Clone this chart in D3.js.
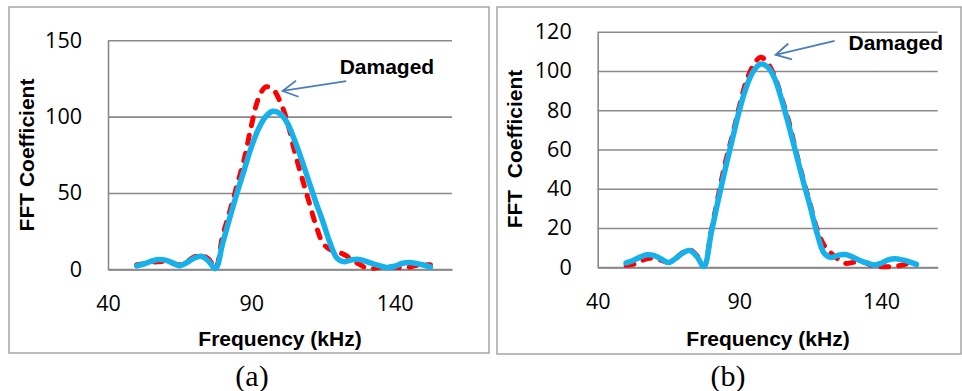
<!DOCTYPE html>
<html>
<head>
<meta charset="utf-8">
<script src="https://cdn.jsdelivr.net/npm/d3@7"></script>
<style>
  body { margin: 0; background: #fff; }
  svg { display: block; }
  .tick text { font-family: "Open Sans", "Liberation Sans", Arial, sans-serif; font-size: 21.5px; fill: #000; }
  .lbl { font-family: "Liberation Sans", Arial, sans-serif; font-weight: bold; font-size: 21px; fill: #000; white-space: pre; }
  .cap { font-family: "Liberation Serif", "Times New Roman", serif; font-size: 30px; fill: #000; }
</style>
</head>
<body>
<svg id="chart" width="962" height="391"></svg>
<script>
// frequency samples (kHz)
var freq = [50, 52.5, 55, 57.5, 60, 62.5, 65, 67.5, 70, 72.5, 75, 77.5, 80, 82.5, 85, 87.5,
            90, 92.5, 95, 97.5, 100, 102.5, 105, 107.5, 110, 112.5, 115, 117.5, 120, 122.5,
            125, 127.5, 130, 132.5, 135, 137.5, 140, 142.5, 145, 147.5, 150, 152.5];

// healthy signal (same in both panels)
var healthy = [2.2, 3.5, 5.2, 6.4, 6.0, 4.2, 2.4, 4.5, 7.2, 8.6, 5.5, 0.4, 17, 34, 50, 65,
               80, 92, 100, 103.5, 102, 96, 85, 72, 58, 44, 31, 17, 7, 5,
               6.2, 6.5, 5.2, 3.5, 2.2, 1.2, 2, 3.8, 4.4, 3.8, 2.8, 1.5];

// damaged signal, panel (a)
var damagedA = [3, 3.5, 4.5, 5, 5, 4, 3, 5, 8, 9, 7, 1, 22, 38, 55, 72,
                94, 112, 119.5, 118, 110, 97, 78, 61, 45, 29, 17, 13, 11.5, 9.5,
                6.5, 3.5, 1, 0.5, 1.5, 2, 1.5, 1, 1.5, 2.5, 3, 3];

// damaged signal, panel (b)
var damagedB = [1, 1.5, 3, 4.5, 4.5, 3.5, 2.5, 4.5, 7.5, 9, 6, 0.5, 18, 36, 53, 67,
                82, 95, 103, 107, 104, 97, 86, 74, 59, 45, 32, 19, 11, 7,
                4, 2, 2.5, 3, 2, 0.5, 0.3, 0.3, 0.5, 1.2, 2, 1.5];

var xTicks = [40, 90, 140];
var yTicksA = [0, 50, 100, 150];
var yTicksB = [0, 20, 40, 60, 80, 100, 120];

var svg = d3.select("#chart");

var panels = [
  { frame: [9, 7, 480, 346], left: 108, right: 452, top: 40.3, bottom: 269.3,
    yMax: 150, yTicks: yTicksA, damaged: damagedA, yTitle: "FFT Coefficient",
    yTitlePos: [26, 155], xTitlePos: [280, 338], cap: "(a)", capPos: [252, 375],
    arrowTail: [123.1, 123.3], arrowTip: [100.9, 116.8], note: [137.3, 133] },
  { frame: [497, 7, 464, 347], left: 597.7, right: 937.7, top: 31.7, bottom: 267.3,
    yMax: 120, yTicks: yTicksB, damaged: damagedB, yTitle: "FFT  Coefficient",
    yTitlePos: [514, 149], xTitlePos: [768, 338], cap: "(b)", capPos: [728, 375],
    arrowTail: [123.6, 115.3], arrowTip: [102.8, 108.2], note: [145.2, 114.3] }
];

panels.forEach(function (p) {
  svg.append("rect")
    .attr("x", p.frame[0]).attr("y", p.frame[1])
    .attr("width", p.frame[2]).attr("height", p.frame[3])
    .attr("fill", "none").attr("stroke", "#a6a6a6").attr("stroke-width", 1.5);

  var x = d3.scaleLinear().domain([40, 160]).range([p.left, p.right]);
  var y = d3.scaleLinear().domain([0, p.yMax]).range([p.bottom, p.top]);

  var gy = svg.append("g")
    .attr("transform", "translate(" + p.left + ",0)")
    .call(d3.axisLeft(y).tickValues(p.yTicks).tickSize(-(p.right - p.left))
      .tickSizeOuter(0).tickPadding(26));
  gy.selectAll(".tick line").attr("stroke", "#898989").attr("stroke-width", 1.6);
  gy.select(".domain").attr("stroke", "#898989").attr("stroke-width", 1.6);

  var gx = svg.append("g")
    .attr("transform", "translate(0," + p.bottom + ")")
    .call(d3.axisBottom(x).tickValues(xTicks).tickSize(0).tickSizeOuter(0).tickPadding(26));
  gx.select(".domain").attr("stroke", "#898989").attr("stroke-width", 2);

  var line = d3.line()
    .x(function (d, i) { return x(freq[i]); })
    .y(function (d) { return y(d); })
    .curve(d3.curveCatmullRom.alpha(0.5));

  svg.append("path").datum(p.damaged)
    .attr("d", line).attr("fill", "none")
    .attr("stroke", "#ff0000").attr("stroke-width", 5)
    .attr("stroke-dasharray", "8 10").attr("stroke-linecap", "round");

  svg.append("path").datum(healthy)
    .attr("d", line).attr("fill", "none")
    .attr("stroke", "#16b1ea").attr("stroke-width", 5.5)
    .attr("stroke-linecap", "round").attr("stroke-linejoin", "round");

  // arrow annotation
  var tx = x(p.arrowTip[0]), ty = y(p.arrowTip[1]);
  var sx = x(p.arrowTail[0]), sy = y(p.arrowTail[1]);
  var ang = Math.atan2(sy - ty, sx - tx);
  var hl = 17, ha = 0.5;
  svg.append("path")
    .attr("d", "M" + sx + "," + sy + "L" + tx + "," + ty +
      "M" + (tx + hl * Math.cos(ang - ha)) + "," + (ty + hl * Math.sin(ang - ha)) +
      "L" + tx + "," + ty +
      "L" + (tx + hl * Math.cos(ang + ha)) + "," + (ty + hl * Math.sin(ang + ha)))
    .attr("fill", "none").attr("stroke", "#4a7ebb").attr("stroke-width", 1.8);

  svg.append("text").attr("class", "lbl")
    .attr("x", x(p.note[0])).attr("y", y(p.note[1]))
    .attr("text-anchor", "middle").attr("dominant-baseline", "central")
    .text("Damaged");

  svg.append("text").attr("class", "lbl")
    .attr("transform", "translate(" + p.yTitlePos[0] + "," + p.yTitlePos[1] + ") rotate(-90)")
    .attr("text-anchor", "middle").attr("dominant-baseline", "central")
    .text(p.yTitle);

  svg.append("text").attr("class", "lbl")
    .attr("x", p.xTitlePos[0]).attr("y", p.xTitlePos[1])
    .attr("text-anchor", "middle").attr("dominant-baseline", "central")
    .text("Frequency (kHz)");

  svg.append("text").attr("class", "cap")
    .attr("x", p.capPos[0]).attr("y", p.capPos[1])
    .attr("text-anchor", "middle").attr("dominant-baseline", "central")
    .text(p.cap);
});
</script>
</body>
</html>
